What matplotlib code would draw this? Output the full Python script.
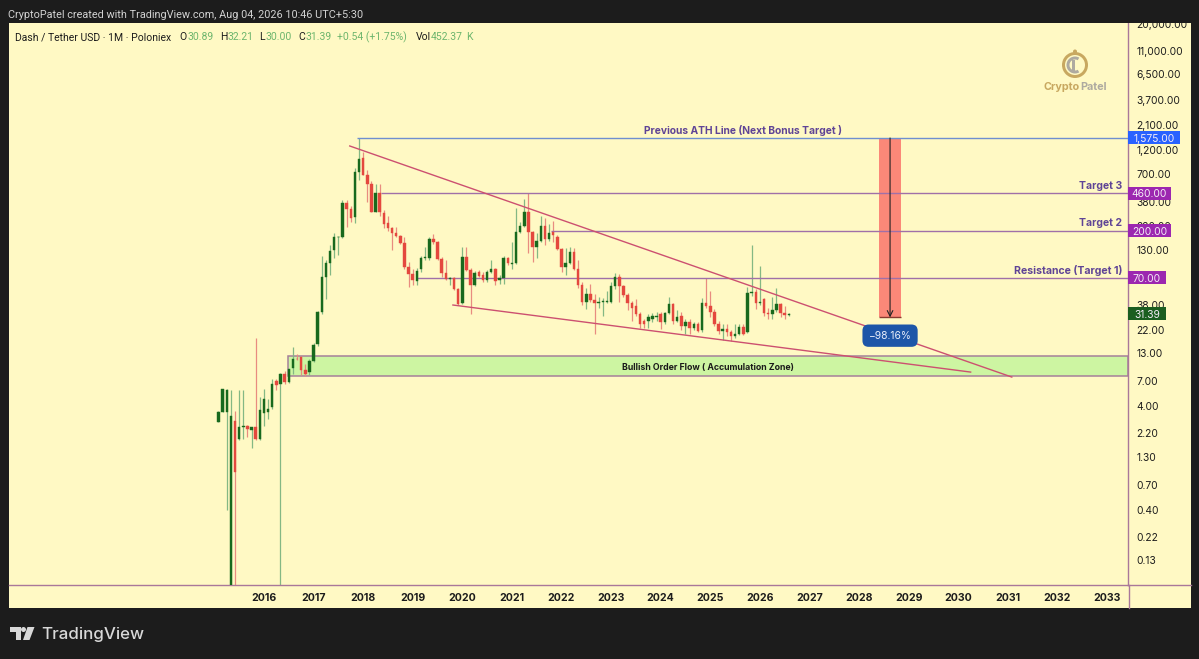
import numpy as np
import matplotlib
matplotlib.use('Agg')
import matplotlib.pyplot as plt
from matplotlib.patches import Rectangle, Polygon, Circle, Wedge
from matplotlib.lines import Line2D
from matplotlib.transforms import Affine2D, blended_transform_factory

plt.rcParams['font.family'] = ['Inter', 'DejaVu Sans']

W, H = 1199, 659

# monthly candles, Feb 2015 to Aug 2026
opens = [2.85, 3.5, 3.5, 0.05, 2.9, 1.95, 2.5, 2.6, 2.35, 2.5, 1.95,
         3.45, 3.5, 3.9, 7.1, 6.6, 8.15, 6.9, 9.3, 11.6, 11.9, 9.0, 8.6,
         11.1, 16, 32.5, 72, 97, 130, 172, 172, 370, 322, 270, 740,
         1000, 690, 570, 305, 460, 295, 235, 212, 190, 178, 152, 90,
         77, 65, 85, 108, 110, 165, 155, 107, 78, 68, 70, 54,
         40, 112, 84, 60, 80, 75, 66, 80, 85, 66, 69, 110,
         95, 98, 195, 220, 300, 195, 140, 158, 220, 165, 192, 175,
         132, 90, 97, 125, 85, 60, 41, 49, 43, 40, 41, 41,
         41, 58, 72, 58, 48, 40, 37, 31, 27, 27, 28, 29,
         31, 26, 32, 39, 27, 30, 24, 26, 23, 25, 22, 40,
         37, 33, 25, 21.5, 22.5, 21, 19, 20, 23.5, 21, 50, 51,
         40, 44, 32, 31.5, 34.5, 39, 32, 30.89]
closes = [3.56, 5.83, 5.8, 3.2, 0.92, 2.5, 2.6, 2.4, 2.5, 1.95, 3.65,
          4.67, 3.75, 6.65, 6.5, 8.15, 6.9, 9.1, 11.6, 11.4, 8.9, 8.3, 11.1,
          15.6, 32.5, 72, 97, 126, 173, 175, 370, 322, 264, 740, 985,
          690, 570, 305, 460, 305, 230, 212, 190, 176, 152, 90, 77,
          66, 82, 108, 112, 165, 155, 107, 78, 68, 70, 54, 39,
          112, 84, 60, 78, 73, 66, 80, 85, 65, 70, 110, 97,
          98, 195, 220, 300, 195, 140, 158, 220, 165, 190, 180, 132,
          90, 97, 125, 85, 60, 41, 49, 43, 40, 41, 42, 42,
          58, 72, 58, 48, 40, 36, 31, 25, 25, 29, 30, 30,
          26, 32, 39, 27, 29, 24, 26, 23, 25, 21.5, 40, 37,
          33, 25, 21.5, 22.5, 21, 19, 20, 23.5, 20, 50, 51, 40,
          41, 32, 31, 34.5, 39, 32, 30.89, 31.39]
highs = [3.6, 5.83, 5.9, 5.8, 3.6, 5.8, 5.8, 2.65, 2.55, 18.5, 4.9,
         5.83, 4.67, 7.3, 7.3, 8.5, 8.7, 9.2, 15, 12.9, 12.2, 10.2, 11.5,
         16.5, 33.5, 115, 105, 145, 190, 178, 400, 400, 350, 807, 1575,
         1150, 780, 610, 560, 560, 315, 275, 215, 215, 182, 175, 100,
         85, 88, 115, 140, 175, 185, 160, 112, 103, 72, 72, 56,
         138, 140, 88, 82, 84, 80, 84, 105, 88, 75, 115, 112,
         155, 330, 240, 405, 460, 200, 190, 275, 265, 230, 250, 180,
         135, 135, 140, 135, 105, 64, 56, 61, 49, 46, 45, 52,
         64, 78, 77, 60, 50, 42, 44, 33, 28, 31, 32, 33,
         33, 33, 46, 40, 34, 33, 28, 28, 26, 26, 45, 70,
         52, 35, 27, 25, 25, 22, 25, 25, 25, 57, 145, 55,
         92, 45, 36, 46, 56, 40, 37, 32.21]
lows = [2.8, 3.5, 0.40, 0.05, 0.05, 1.9, 1.95, 2.03, 1.6, 1.9, 1.9,
        2.6, 3.05, 3.8, 5.8, 0.05, 6.6, 6.7, 8.2, 11.2, 8, 7.8, 8,
        10.7, 15.5, 31, 44, 75, 108, 117, 170, 215, 245, 236, 618,
        690, 380, 300, 300, 280, 210, 200, 130, 172, 150, 85, 57,
        60, 60, 80, 105, 105, 150, 103, 72, 66, 60, 53, 38,
        39, 82, 31, 58, 71, 64, 64, 78, 60, 61, 61, 94,
        85, 95, 190, 215, 122, 100, 110, 155, 145, 160, 155, 130,
        80, 75, 95, 83, 56, 38, 35, 41, 20, 36, 30, 40,
        40, 55, 41, 46, 34, 27, 30, 23, 23, 23, 26, 27,
        22.5, 25, 31, 25, 26, 22, 20, 20, 22, 21, 21, 36,
        29, 24, 20, 17.5, 19, 17, 18.5, 19.5, 19.5, 20.5, 47, 35,
        38, 30, 28, 28, 33, 29, 28, 30]
first_year = 2015 + 1 / 12

year_ticks = list(range(2016, 2034))
price_ticks = [20000, 11000, 6500, 3700, 2100, 1200, 700, 380, 220, 130, 70,
               38, 22, 13, 7, 4, 2.2, 1.3, 0.7, 0.4, 0.22, 0.13]
price_labels = ['20,000.00', '11,000.00', '6,500.00', '3,700.00', '2,100.00',
                '1,200.00', '700.00', '380.00', '220.00', '130.00', '70.00',
                '38.00', '22.00', '13.00', '7.00', '4.00', '2.20', '1.30',
                '0.70', '0.40', '0.22', '0.13']

ath_price = 1575
target3 = 460
target2 = 200
resistance = 70
last_close = 31.39
drop_low = 29
zone_top, zone_bottom = 12.27, 7.91
zone_start = 2016.48
upper_x, upper_y = [2017.73, 2031.08], [1318, 7.68]
lower_x, lower_y = [2019.81, 2030.25], [38.2, 8.58]
drop_x0, drop_x1 = 2028.41, 2028.84

BG = '#1c1c1c'
PANEL = '#fff9c4'
GREEN = '#18691d'
RED = '#e4483e'
GREEN_WICK = '#84b884'
RED_WICK = '#e88c80'
PURPLE = '#a070a8'
TEXT_PURPLE = '#5f4496'
SPINE = '#a9789a'

fig = plt.figure(figsize=(W / 100, H / 100), dpi=100, facecolor=BG)
# top-left pixel coordinates for the frame around the chart
px = Affine2D().scale(1 / W, -1 / H).translate(0, 1) + fig.transFigure

fig.add_artist(Rectangle((9, 23), 1182, 585, transform=px, fc=PANEL, ec='none', zorder=-1))

ax = fig.add_axes([9 / W, 1 - 585 / H, 1119 / W, 562 / H])
ax.patch.set_alpha(0)
ax.set_yscale('log')
ax.set_xlim(2010.859, 2033.423)
ax.set_ylim(0.0749, 20380)

opens = np.array(opens)
closes = np.array(closes)
highs = np.array(highs)
lows = np.array(lows)
months = first_year + np.arange(len(opens)) / 12
up = closes >= opens

ax.vlines(months[up], lows[up], highs[up], color=GREEN_WICK, lw=0.9, zorder=2)
ax.vlines(months[~up], lows[~up], highs[~up], color=RED_WICK, lw=0.9, zorder=2)
body_low = np.minimum(opens, closes)
body_high = np.maximum(opens, closes)
ax.bar(months[up], body_high[up] - body_low[up], bottom=body_low[up], width=0.05,
       color=GREEN, ec=GREEN, lw=0.3, zorder=3)
ax.bar(months[~up], body_high[~up] - body_low[~up], bottom=body_low[~up], width=0.05,
       color=RED, ec=RED, lw=0.3, zorder=3)

# horizontal levels
ax.hlines(ath_price, 2017.88, ax.get_xlim()[1], color='#6f8fd0', lw=1.0, zorder=2.5)
ax.hlines(target3, 2018.36, ax.get_xlim()[1], color=PURPLE, lw=1.0, zorder=2.5)
ax.hlines(target2, 2021.79, ax.get_xlim()[1], color=PURPLE, lw=1.0, zorder=2.5)
ax.hlines(resistance, 2019.08, ax.get_xlim()[1], color=PURPLE, lw=1.0, zorder=2.5)

# accumulation zone
ax.add_patch(Rectangle((zone_start, zone_bottom), ax.get_xlim()[1] - zone_start,
                       zone_top - zone_bottom, fc='#cdf5a2', ec='#a5809a', lw=1.1, zorder=1))
ax.text(2024.95, 9.55, 'Bullish Order Flow ( Accumulation Zone)',
        ha='center', va='center', fontsize=6.3, fontweight='bold', color='#1a1a1a', zorder=4)

# wedge lines
ax.plot(upper_x, upper_y, color='#cc5070', lw=1.0, zorder=4)
ax.plot(lower_x, lower_y, color='#cc5070', lw=1.0, zorder=4)

# measured drop from ATH
ax.add_patch(Rectangle((drop_x0, drop_low), drop_x1 - drop_x0, ath_price - drop_low,
                       fc='#fb8878', ec='none', zorder=2))
ax.hlines(drop_low, drop_x0, drop_x1, color='#8a3a30', lw=1.0, zorder=3)
ax.annotate('', xy=((drop_x0 + drop_x1) / 2, drop_low), xytext=((drop_x0 + drop_x1) / 2, ath_price),
            arrowprops=dict(arrowstyle='->', color='#222222', lw=0.8, shrinkA=0, shrinkB=0), zorder=4)
ax.text((drop_x0 + drop_x1) / 2, 19.3, '\u221298.16%', ha='center', va='center', fontsize=7.4,
        color='#e8eefa', zorder=6,
        bbox=dict(boxstyle='round,pad=0.6', fc='#1d56a8', ec='none'))

# level captions
trans = blended_transform_factory(ax.transAxes, ax.transData)
right_edge = 1113 / 1119
ax.text(2025.66, 1861, 'Previous ATH Line (Next Bonus Target )', ha='center', va='center',
        fontsize=7.4, fontweight='bold', color=TEXT_PURPLE)
ax.text(right_edge, 546, 'Target 3', transform=trans, ha='right', va='center',
        fontsize=7.5, fontweight='bold', color=TEXT_PURPLE)
ax.text(right_edge, 237.6, 'Target 2', transform=trans, ha='right', va='center',
        fontsize=7.5, fontweight='bold', color=TEXT_PURPLE)
ax.text(right_edge, 83, 'Resistance (Target 1)', transform=trans, ha='right', va='center',
        fontsize=7.6, fontweight='bold', color=TEXT_PURPLE)

# axes and ticks
ax.yaxis.tick_right()
ax.set_yticks(price_ticks)
ax.set_yticklabels(price_labels, fontsize=7.4, color='#1c1c1c')
ax.minorticks_off()
ax.set_xticks(year_ticks)
ax.set_xticklabels([str(y) for y in year_ticks], fontsize=7.6, fontweight='bold', color='#1c1c1c')
ax.tick_params(axis='both', length=0)
ax.tick_params(axis='y', pad=6)
ax.tick_params(axis='x', pad=6)
for s in ['top', 'left']:
    ax.spines[s].set_visible(False)
for s in ['right', 'bottom']:
    ax.spines[s].set_color(SPINE)
    ax.spines[s].set_linewidth(1.0)

# axis lines run on to the panel edge
fig.add_artist(Line2D([1128, 1191], [585, 585], transform=px, color=SPINE, lw=1.0))
fig.add_artist(Line2D([1128.5, 1128.5], [585, 608], transform=px, color=SPINE, lw=1.0))


def badge(price, label, color, width_px):
    half = 6.5 / 44.9
    rect = Rectangle((1.0, price * np.exp(-half)), width_px / 1119,
                     price * np.exp(half) - price * np.exp(-half),
                     transform=trans, fc=color, ec='none', clip_on=False, zorder=7)
    ax.add_patch(rect)
    ax.text(1.0 + width_px / 2 / 1119, price * 0.98, label, transform=trans, ha='center', va='center',
            fontsize=7.4, color='#f4ecf6', clip_on=False, zorder=8)


badge(ath_price, '1,575.00', '#2962ff', 52)
badge(target3, '460.00', '#9c27b0', 43)
badge(target2, '200.00', '#9c27b0', 43)
badge(resistance, '70.00', '#9c27b0', 38)
badge(last_close, '31.39', '#1b5e20', 38)

# dark strip over the clipped top price label
fig.add_artist(Rectangle((0, 0), W, 23, transform=px, fc=BG, ec='none', zorder=5))

fig.text(8, 15, 'CryptoPatel created with TradingView.com, Aug 04, 2026 10:46 UTC+5:30',
         transform=px, fontsize=7.85, family='Roboto', color='#d2d2d2', va='center', zorder=6)

# legend row
legend_parts = [(15, 'Dash / Tether USD \u00b7 1M \u00b7 Poloniex', '#1c1c1c'),
                (179, 'O', '#1c1c1c'), (187, '30.89', '#6db56d'),
                (220, 'H', '#1c1c1c'), (228, '32.21', '#6db56d'),
                (259, 'L', '#1c1c1c'), (266, '30.00', '#6db56d'),
                (298, 'C', '#1c1c1c'), (306, '31.39', '#6db56d'),
                (337, '+0.54 (+1.75%)', '#6db56d'),
                (416, 'Vol', '#1c1c1c'), (431, '452.37', '#6db56d'), (466, 'K', '#6db56d')]
for x, s, c in legend_parts:
    fig.text(x, 37.5, s, transform=px, fontsize=7.5, family='Roboto', color=c, va='center', zorder=6)

# watermark
gold = '#c8a860'
grey = '#aeaaa0'
fig.add_artist(Wedge((1075, 65), 13, 0, 360, width=3, transform=px, fc=gold, ec='none', zorder=1))
fig.add_artist(Wedge((1075, 65), 8.5, 60, 300, width=3, transform=px, fc=grey, ec='none', zorder=1))
fig.add_artist(Rectangle((1072, 60), 2.5, 13, transform=px, fc=grey, ec='none', zorder=1))
fig.add_artist(Circle((1075, 51.5), 2, transform=px, fc=gold, ec='none', zorder=1))
fig.text(1044, 86.5, 'Crypto', transform=px, fontsize=7.8, fontweight='bold', color=gold, va='center', zorder=1)
fig.text(1080, 86.5, 'Patel', transform=px, fontsize=7.8, fontweight='bold', color=grey, va='center', zorder=1)

# TradingView footer
logo = '#d8d8d8'
fig.add_artist(Polygon([(10, 627), (21, 627), (21, 640), (15.5, 640), (15.5, 632), (10, 632)],
                       transform=px, fc=logo, ec='none'))
fig.add_artist(Circle((23.5, 629.5), 2.5, transform=px, fc=logo, ec='none'))
fig.add_artist(Polygon([(27.5, 627), (34.5, 627), (29.5, 640), (23, 640)],
                       transform=px, fc=logo, ec='none'))
fig.text(41, 634, 'TradingView', transform=px, fontsize=12.2, fontweight='medium', color=logo, va='center')

fig.savefig('out.png', dpi=100, facecolor=BG)
